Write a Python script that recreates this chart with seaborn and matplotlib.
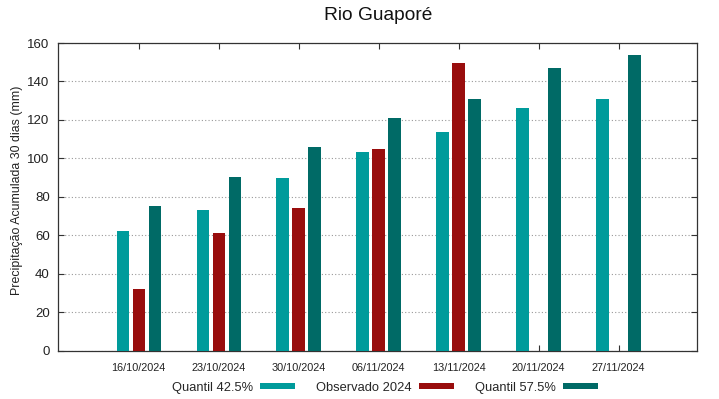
import matplotlib
matplotlib.use("Agg")
import matplotlib.pyplot as plt
import seaborn as sns
import pandas as pd
import numpy as np
from matplotlib.patches import Patch

dates = ["16/10/2024", "23/10/2024", "30/10/2024", "06/11/2024",
         "13/11/2024", "20/11/2024", "27/11/2024"]
q425 = [62.0, 73.3, 89.6, 103.1, 113.5, 126.2, 130.7]
obs2024 = [32.0, 61.0, 74.2, 105.0, 149.8, np.nan, np.nan]
q575 = [75.5, 90.1, 105.7, 121.0, 131.1, 147.2, 153.6]
series_names = ["Quantil 42.5%", "Observado 2024", "Quantil 57.5%"]
colors = ["#009b9b", "#990d0d", "#006a66"]

df = pd.DataFrame({"date": dates, series_names[0]: q425,
                   series_names[1]: obs2024, series_names[2]: q575})
long = df.melt(id_vars="date", var_name="serie", value_name="valor")

sns.set_theme(style="white")
plt.rcParams["font.family"] = ["Liberation Sans", "DejaVu Sans"]

fig = plt.figure(figsize=(7.19, 3.99), dpi=100)
ax = fig.add_axes([58/719, 1 - 350.7/399, (697-58)/719, (350.7-43)/399])

sns.barplot(data=long, x="date", y="valor", hue="serie", hue_order=series_names,
            palette=colors, width=0.6, gap=0.22, ax=ax, legend=False,
            saturation=1, errorbar=None, edgecolor="none", zorder=3)

ax.set_xlim(-1.01, 6.98)
ax.set_ylim(0, 160)
ax.set_yticks(range(0, 161, 20))
ax.yaxis.grid(True, linestyle=(0, (1, 2)), color="#999999", linewidth=0.8, zorder=0)
ax.set_axisbelow(True)
for s in ax.spines.values():
    s.set_color("#333333")
    s.set_linewidth(0.9)
ax.tick_params(axis="both", direction="in", length=4, width=0.8, color="#333333",
               top=True, right=True, bottom=True, left=True)
ax.tick_params(axis="y", labelsize=9.5, pad=6, colors="#333333", labelcolor="#222222")
ax.tick_params(axis="x", labelsize=7.8, pad=9, labelcolor="#222222")
ax.set_xlabel("")
ax.set_ylabel("Precipitação Acumulada 30 dias (mm)", fontsize=8.9, color="#222222")
ax.yaxis.set_label_coords(-0.055, 0.52)
fig.text(378/719, 1 - 15/399, "Rio Guaporé", ha="center", va="center",
         fontsize=13.8, color="#111111")

handles = [Patch(facecolor=c, edgecolor="none") for c in colors]
fig.legend(handles, series_names, loc="center", bbox_to_anchor=(385/719, 1 - 388/399),
           ncol=3, frameon=False, markerfirst=False, fontsize=9.3,
           handlelength=2.7, handleheight=0.35, handletextpad=0.55,
           columnspacing=1.65, borderpad=0)

fig.savefig("out.png", dpi=100)
